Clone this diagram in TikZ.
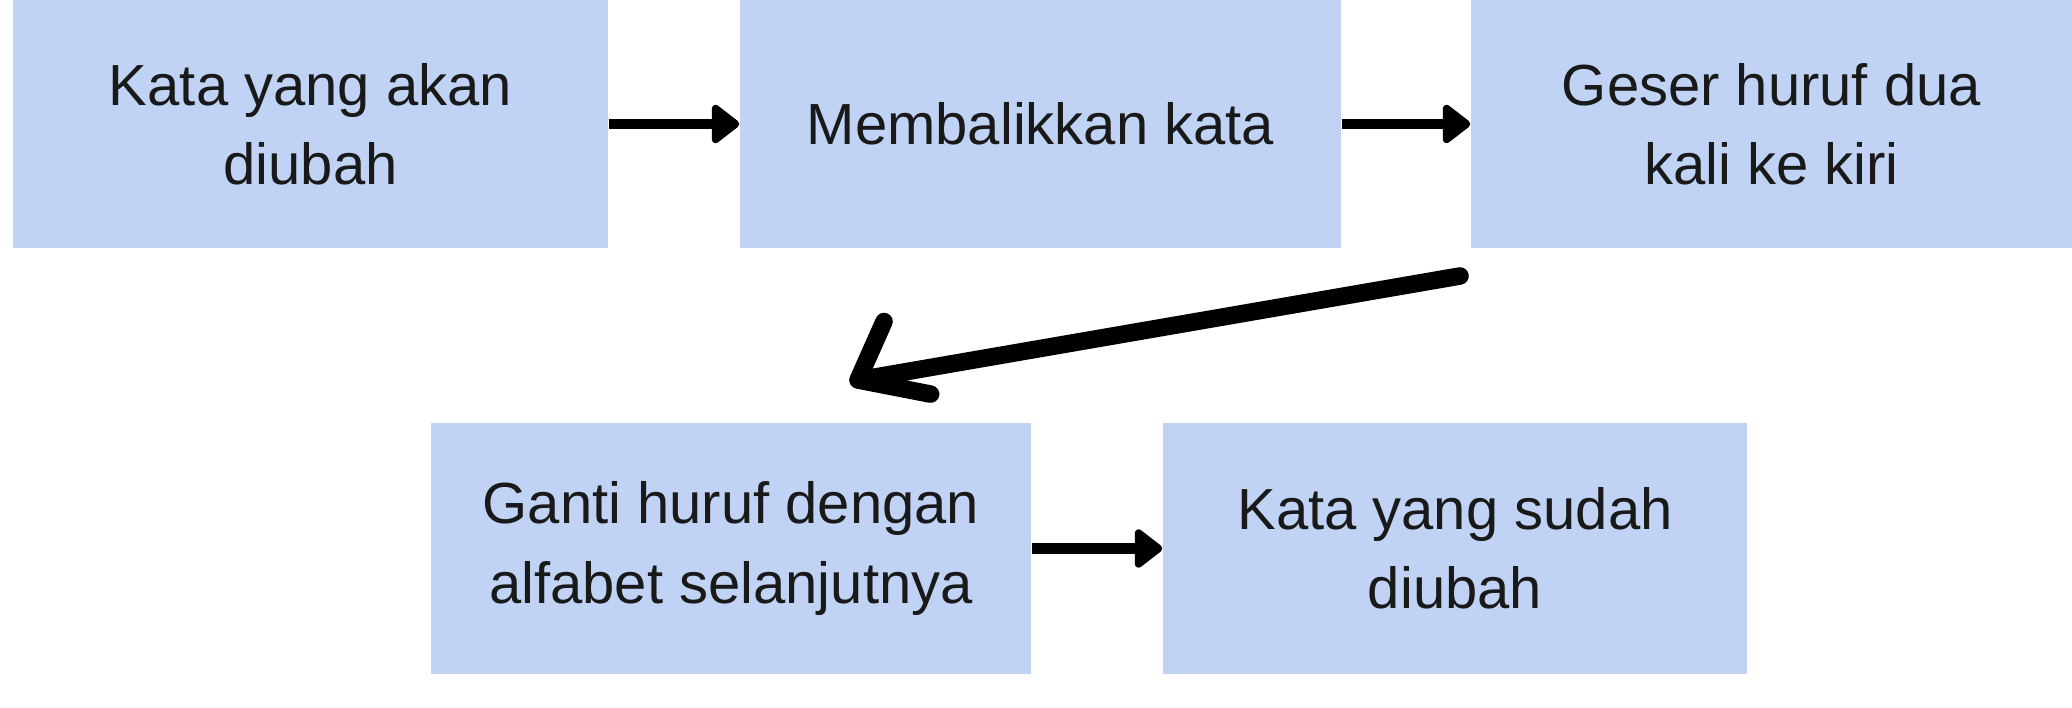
\documentclass[tikz,border=0pt]{standalone}
\usepackage{fontspec}
\setmainfont{Liberation Sans}
\usetikzlibrary{arrows.meta}
\definecolor{boxblue}{RGB}{192,211,244}
\tikzset{kotak/.style={fill=boxblue, minimum height=2.48cm, align=center, inner sep=0pt,
    font=\fontsize{16.5}{22.5}\selectfont, text=black!90}}
\def\panah{\draw[line width=3pt,-{Triangle[length=0.3cm,width=0.44cm,round]}]}

\begin{document}
\begin{tikzpicture}
                \useasboundingbox (0,0) rectangle (20.72,-7.08);
                \node[kotak,minimum width=5.95cm] (awal)  at (3.105,-1.24) {Kata yang akan\\diubah};
                \node[kotak,minimum width=6.01cm] (balik) at (10.405,-1.24) {Membalikkan kata};
                \node[kotak,minimum width=6.01cm] (geser) at (17.715,-1.24) {Geser huruf dua\\kali ke kiri};
                \node[kotak,minimum width=6.0cm,minimum height=2.51cm] (ganti) at (7.31,-5.485) {Ganti huruf dengan\\alfabet selanjutnya};
                \node[kotak,minimum width=5.84cm,minimum height=2.51cm] (akhir) at (14.55,-5.485) {Kata yang sudah\\diubah};
                \panah (awal) -- (balik);
                \panah (balik) -- (geser);
                \panah (ganti) -- (akhir);
                \coordinate (ekor) at (14.6,-2.76);
                \coordinate (ujung) at (8.58,-3.8);
                \draw[line width=5pt,line cap=round,line join=round] (ekor) -- (ujung) ++(66:0.64) -- (ujung) -- ++(-11:0.74);
            \end{tikzpicture}
\end{document}
